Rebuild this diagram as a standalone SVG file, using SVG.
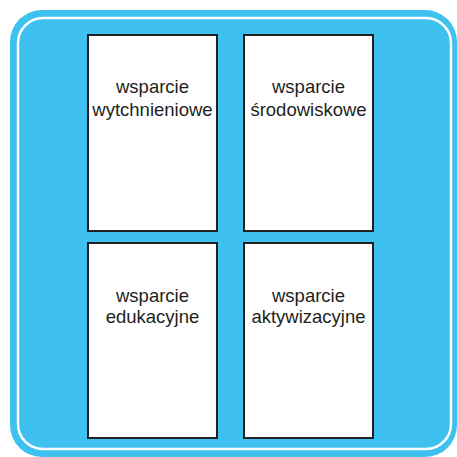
<svg xmlns="http://www.w3.org/2000/svg" width="457" height="457" viewBox="0 0 457 457">
<style>
.card{fill:#fff;stroke:#231f20;stroke-width:2}
.t{font-family:"Liberation Sans",Arial,sans-serif;font-size:18.5px;fill:#231f20;text-anchor:middle}
</style>
<rect x="0" y="0" width="457" height="457" fill="#fff"/>
<rect x="10" y="10" width="447" height="447" rx="32" fill="#3fc1f0"/>
<rect x="18" y="18" width="433" height="431" rx="25" fill="none" stroke="#fff" stroke-width="2.5"/>
<g id="node1"><rect class="card" x="88" y="35" width="129" height="196"/><text class="t" x="152.5" y="93">wsparcie</text><text class="t" x="152.5" y="116">wytchnieniowe</text></g>
<g id="node2"><rect class="card" x="244" y="35" width="129" height="196"/><text class="t" x="308.5" y="93">wsparcie</text><text class="t" x="308.5" y="116">środowiskowe</text></g>
<g id="node3"><rect class="card" x="88" y="243" width="129" height="195"/><text class="t" x="152.5" y="302">wsparcie</text><text class="t" x="152.5" y="323">edukacyjne</text></g>
<g id="node4"><rect class="card" x="244" y="243" width="129" height="195"/><text class="t" x="308.5" y="302">wsparcie</text><text class="t" x="308.5" y="323">aktywizacyjne</text></g>
<g id="connectors"></g>
</svg>
